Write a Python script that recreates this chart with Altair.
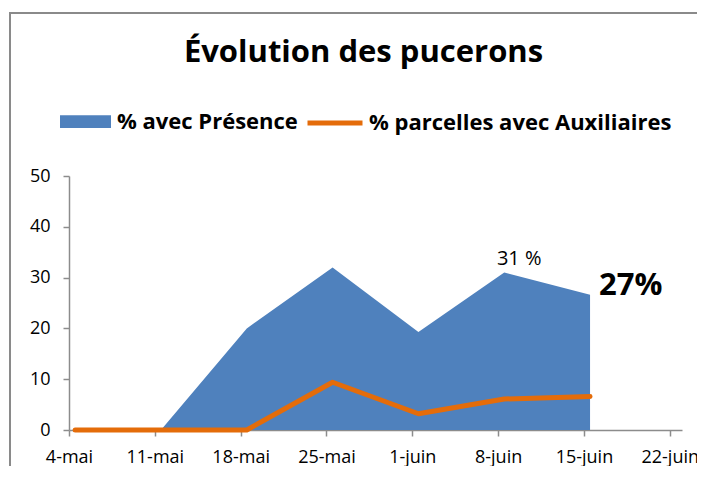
import altair as alt
import pandas as pd

# ---- data ----
dates = ["2012-05-04", "2012-05-11", "2012-05-18", "2012-05-25",
         "2012-06-01", "2012-06-08", "2012-06-15"]
presence = [0, 0, 20, 32, 19.3, 31, 26.6]
auxiliaires = [0, 0, 0, 9.4, 3.2, 6.1, 6.6]
series_names = ["% avec Présence", "% parcelles avec Auxiliaires"]

tick_dates = ["2012-05-04", "2012-05-11", "2012-05-18", "2012-05-25",
              "2012-06-01", "2012-06-08", "2012-06-15", "2012-06-22"]
tick_labels = ["4-mai", "11-mai", "18-mai", "25-mai",
               "1-juin", "8-juin", "15-juin", "22-juin"]
y_ticks = [0, 10, 20, 30, 40, 50]

annot_index = [5, 6]
annot_labels = ["31 %", "27%"]

title_text = "Évolution des pucerons"

# ---- build tables ----
def ms(d, hour=0):
    return int(pd.Timestamp(d + f"T{hour:02d}:00:00", tz="UTC").value // 10**6)

t_points = [ms(d, 12) for d in dates]          # Excel date axis: points mid-day
df_pres = pd.DataFrame({"t": t_points, "v": presence, "serie": series_names[0]})
df_aux = pd.DataFrame({"t": t_points, "v": auxiliaires, "serie": series_names[1]})
df_a1 = pd.DataFrame({"t": [t_points[annot_index[0]]], "v": [presence[annot_index[0]]],
                      "lab": [annot_labels[0]]})
df_a2 = pd.DataFrame({"t": [t_points[annot_index[1]]], "v": [presence[annot_index[1]]],
                      "lab": [annot_labels[1]]})

tick_ms = [ms(d) for d in tick_dates]
t0 = tick_ms[0]
t_end = ms("2012-06-23")
week = 7 * 24 * 3600 * 1000
label_expr = ("[" + ",".join(f"'{l}'" for l in tick_labels) + "]"
              + f"[round((datum.value - {t0}) / {week})]")

FONT = "Open Sans"
AXIS_COL = "#8c8c8c"

x_enc = alt.X("t:Q", scale=alt.Scale(domain=[t0, t_end], nice=False, zero=False),
              axis=alt.Axis(values=tick_ms, labelExpr=label_expr, title=None,
                            grid=False, domainColor=AXIS_COL, domainWidth=1.5,
                            tickColor=AXIS_COL, tickWidth=1.5, tickSize=6,
                            labelFont=FONT, labelFontSize=18, labelColor="black",
                            labelPadding=12, labelOverlap=False, labelFlush=False))
y_enc = alt.Y("v:Q", scale=alt.Scale(domain=[0, 50], nice=False),
              axis=alt.Axis(values=y_ticks, title=None, grid=False,
                            domainColor=AXIS_COL, domainWidth=1.5,
                            tickColor=AXIS_COL, tickWidth=1.5, tickSize=6,
                            labelFont=FONT, labelFontSize=18, labelColor="black",
                            labelPadding=13))

one = pd.DataFrame({"a": [0]})
frame_top = alt.Chart(one).mark_rule(stroke="#8a8a8a", strokeWidth=2).encode(
    x=alt.value(-60), x2=alt.value(700), y=alt.value(-163))
frame_left = alt.Chart(one).mark_rule(stroke="#8a8a8a", strokeWidth=2).encode(
    x=alt.value(-59), y=alt.value(-164), y2=alt.value(400))

area = alt.Chart(df_pres).mark_area(color="#4F81BD").encode(
    x=x_enc, y=y_enc,
    fill=alt.Fill("serie:N", scale=alt.Scale(domain=[series_names[0]], range=["#4F81BD"]),
                  legend=alt.Legend(orient="none", legendX=-9, legendY=-80, title=None,
                                    symbolType="M-1,-0.25H1V0.25H-1Z", symbolSize=2601,
                                    symbolStrokeWidth=0, labelFont=FONT, labelFontSize=22,
                                    labelFontWeight="bold", labelColor="black",
                                    labelOffset=6, labelLimit=500, padding=0))
)

line = alt.Chart(df_aux).mark_line(strokeWidth=5, strokeCap="round", strokeJoin="round").encode(
    x="t:Q", y="v:Q",
    stroke=alt.Stroke("serie:N", scale=alt.Scale(domain=[series_names[1]], range=["#E46C0A"]),
                      legend=alt.Legend(orient="none", legendX=236, legendY=-83, title=None,
                                        symbolType="stroke", symbolSize=3025,
                                        symbolStrokeWidth=5, labelFont=FONT, labelFontSize=22,
                                        labelFontWeight="bold", labelColor="black",
                                        labelOffset=4, labelLimit=500, padding=0))
)

txt1 = alt.Chart(df_a1).mark_text(
    font=FONT, fontSize=20, color="black", align="center", baseline="bottom", dx=15, dy=-4
).encode(x="t:Q", y="v:Q", text="lab:N")

txt2 = alt.Chart(df_a2).mark_text(
    font=FONT, fontSize=31, fontWeight="bold", color="black", align="left",
    baseline="alphabetic", dx=9, dy=0
).encode(x="t:Q", y="v:Q", text="lab:N")

chart = alt.layer(frame_top, frame_left, area, line, txt1, txt2).properties(
    width=613, height=254,
    padding={"left": 61, "top": 168, "right": 15, "bottom": 36},
    autosize=alt.AutoSizeParams(type="none"),
    title=alt.TitleParams(title_text, font=FONT, fontSize=31, fontWeight="bold",
                          color="black", anchor="middle", dx=-12, offset=-58),
).resolve_scale(fill="independent", stroke="independent").configure_view(stroke=None)

chart.save("out.html", embed_options={"renderer": "svg", "actions": False})
